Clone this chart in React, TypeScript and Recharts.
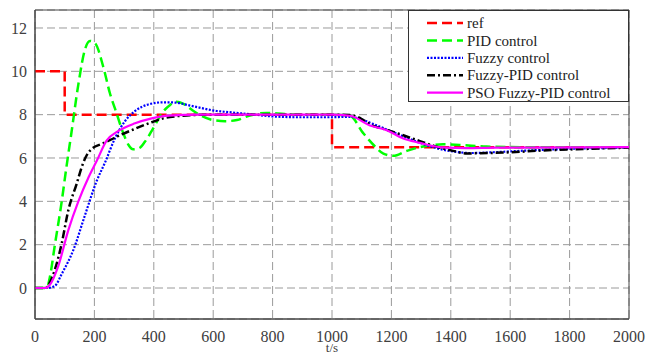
import React from 'react';
import { LineChart, Line, XAxis, YAxis, CartesianGrid, Legend, ReferenceArea } from 'recharts';

// ---- data ----
const xTicks = [0, 200, 400, 600, 800, 1000, 1200, 1400, 1600, 1800, 2000];
const yTicks = [0, 2, 4, 6, 8, 10, 12];

const refT = [0, 100, 100, 1000, 1000, 2000];
const refV = [10, 10, 8, 8, 6.5, 6.5];

const pidT = [0, 40, 50, 67, 90, 105, 123, 146, 168, 185, 202, 230, 252, 275, 297, 315, 330, 350, 370, 393, 432, 455, 477, 500, 530, 560, 600, 640, 680, 720, 780, 840, 900, 1000, 1060, 1105, 1140, 1173, 1206, 1252, 1296, 1374, 1430, 1520, 1650, 2000];
const pidV = [0, 0, 0.5, 2.0, 4.0, 5.5, 7.2, 9.4, 11.0, 11.4, 11.3, 10.2, 9.0, 8.05, 7.15, 6.6, 6.4, 6.45, 6.75, 7.25, 8.15, 8.45, 8.6, 8.5, 8.2, 7.95, 7.75, 7.7, 7.75, 7.95, 8.08, 8.03, 8.0, 8.0, 7.95, 7.15, 6.6, 6.2, 6.1, 6.33, 6.5, 6.63, 6.6, 6.53, 6.5, 6.5];

const fuzzyT = [0, 40, 67, 90, 129, 168, 208, 236, 269, 303, 337, 381, 432, 470, 522, 612, 650, 724, 800, 892, 983, 1060, 1100, 1128, 1184, 1240, 1296, 1352, 1408, 1465, 1550, 1633, 1800, 2000];
const fuzzyV = [0, 0, 0.1, 0.65, 1.75, 3.35, 4.95, 5.8, 6.9, 7.7, 8.17, 8.47, 8.57, 8.56, 8.42, 8.17, 8.12, 8.02, 7.92, 7.88, 7.88, 7.9, 7.78, 7.63, 7.32, 7.0, 6.7, 6.45, 6.3, 6.23, 6.27, 6.33, 6.42, 6.48];

const fpidT = [0, 35, 50, 67, 90, 112, 140, 163, 175, 191, 224, 252, 281, 337, 393, 432, 470, 520, 580, 1000, 1060, 1100, 1128, 1184, 1240, 1296, 1352, 1408, 1454, 1500, 1576, 1745, 1858, 2000];
const fpidV = [0, 0, 0.25, 0.85, 2.06, 3.58, 4.8, 5.8, 6.15, 6.42, 6.65, 6.82, 7.02, 7.35, 7.65, 7.83, 7.92, 7.97, 8.0, 8.0, 7.98, 7.8, 7.55, 7.3, 7.05, 6.78, 6.52, 6.33, 6.21, 6.22, 6.25, 6.37, 6.42, 6.48];

const psoT = [0, 34, 50, 78, 112, 146, 180, 208, 241, 281, 337, 393, 438, 500, 560, 1000, 1060, 1128, 1184, 1240, 1296, 1352, 1386, 1450, 1550, 2000];
const psoV = [0, 0, 0.15, 1.0, 2.66, 4.0, 5.1, 5.87, 6.8, 7.25, 7.6, 7.83, 7.94, 7.99, 8.0, 8.0, 7.95, 7.5, 7.28, 6.9, 6.7, 6.52, 6.48, 6.46, 6.48, 6.5];

const names = ['ref', 'PID control', 'Fuzzy control', 'Fuzzy-PID control', 'PSO Fuzzy-PID control'];

const toPts = (t: number[], v: number[]) => t.map((x, i) => ({ t: x, v: v[i] }));

const series = [
  { name: names[0], data: toPts(refT, refV), color: '#ff0000', dash: '10 5', width: 2.5, type: 'linear' },
  { name: names[1], data: toPts(pidT, pidV), color: '#00ff00', dash: '10 5', width: 2.5, type: 'monotone' },
  { name: names[2], data: toPts(fuzzyT, fuzzyV), color: '#0000ff', dash: '2 1.5', width: 2.2, type: 'monotone' },
  { name: names[3], data: toPts(fpidT, fpidV), color: '#000000', dash: '8 3 2 3', width: 2.5, type: 'monotone' },
  { name: names[4], data: toPts(psoT, psoV), color: '#ff00ff', dash: undefined, width: 2.2, type: 'monotone' },
];

const FONT = 'Liberation Serif, DejaVu Serif, serif';

const LegendBox = () => (
  <svg width={221} height={92} style={{ display: 'block' }}>
    <rect x={0.5} y={0.5} width={220} height={91} fill="#fff" stroke="#333" strokeWidth={1} />
    {series.map((s, i) => {
      const y = 13 + i * 17.4;
      return (
        <g key={s.name}>
          <line x1={19} x2={55} y1={y} y2={y} stroke={s.color} strokeWidth={s.width} strokeDasharray={s.dash} />
          <text x={59} y={y} dy="0.35em" style={{ fontFamily: FONT, fontSize: 15 }} fill="#222">{s.name}</text>
        </g>
      );
    })}
  </svg>
);

export default function App() {
  return (
    <div style={{ position: 'absolute', left: 0, top: 0, background: '#fff', fontFamily: FONT }}>
      <LineChart width={646} height={352} margin={{ top: 10, right: 17, bottom: 0, left: 0 }} style={{ fontFamily: FONT }}>
        <CartesianGrid stroke="#9a9a9a" strokeDasharray="8 4" strokeWidth={1} />
        <XAxis
          dataKey="t"
          type="number"
          domain={[0, 2000]}
          ticks={xTicks}
          allowDataOverflow
          height={33}
          tickSize={0}
          tickMargin={12}
          axisLine={{ stroke: '#444' }}
          tick={{ fontSize: 16, fill: '#404040', style: { fontFamily: FONT } }}
          label={{ value: 't/s', position: 'insideBottom', offset: 0, fontSize: 13, fill: '#404040', style: { fontFamily: FONT } }}
        />
        <YAxis
          type="number"
          domain={[-1.43, 12.83]}
          ticks={yTicks}
          allowDataOverflow
          width={35}
          tickSize={0}
          tickMargin={8}
          axisLine={{ stroke: '#444' }}
          tick={{ fontSize: 16, fill: '#404040', style: { fontFamily: FONT } }}
        />
        <ReferenceArea x1={0} x2={2000} y1={-1.43} y2={12.83} fill="none" stroke="#444" strokeWidth={1} ifOverflow="visible" />
        {series.map((s) => (
          <Line
            key={s.name}
            data={s.data}
            dataKey="v"
            name={s.name}
            type={s.type as any}
            stroke={s.color}
            strokeWidth={s.width}
            strokeDasharray={s.dash}
            dot={false}
            activeDot={false}
            isAnimationActive={false}
          />
        ))}
        <Legend
          layout="vertical"
          align="center"
          verticalAlign="middle"
          content={() => <LegendBox />}
          wrapperStyle={{ position: 'absolute', left: 408, top: 10, width: 221, height: 92 }}
        />
      </LineChart>
    </div>
  );
}
